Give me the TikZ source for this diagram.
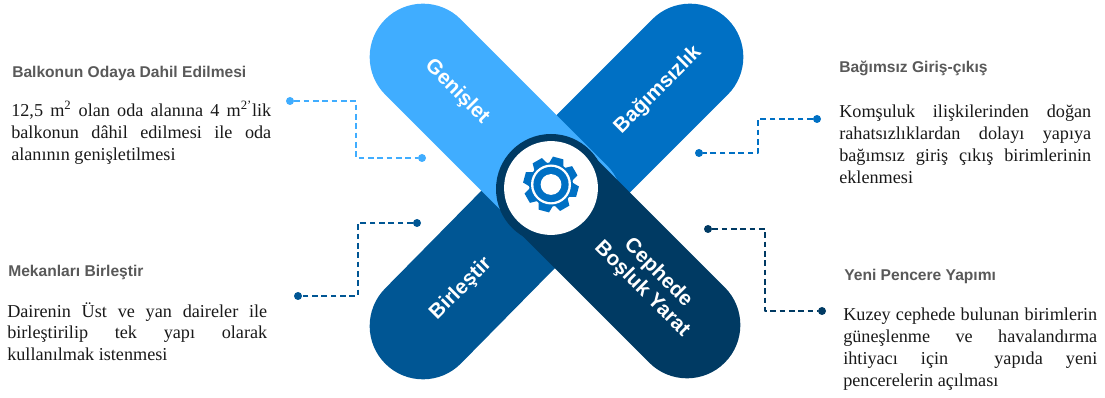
\documentclass[tikz,border=0pt]{standalone}
\usepackage{fontspec}
\setmainfont{Liberation Serif}
\newfontfamily\headfont{Liberation Sans}
\definecolor{lightblue}{HTML}{40ADFF}
\definecolor{midblue}{HTML}{0070C4}
\definecolor{deepblue}{HTML}{005694}
\definecolor{navyblue}{HTML}{003A63}
\definecolor{headgray}{HTML}{595959}
\tikzset{
  pill/.style={line width=80pt,line cap=round},
  pilltext/.style={text=white,font=\headfont\bfseries\fontsize{15.5}{17}\selectfont,align=center,inner sep=0pt},
  headtext/.style={anchor=west,inner sep=0pt,text=headgray,font=\headfont\bfseries\fontsize{11.7}{13}\selectfont},
  bodytext/.style={anchor=north west,inner sep=0pt,align=justify,text=black!90,font=\fontsize{13.65}{16.3}\selectfont},
  linkdot/.style={circle,fill,inner sep=0pt,minimum size=6pt},
  linkline/.style={line width=1.1pt,dash pattern=on 4.2pt off 2.8pt,line cap=butt}
}
\begin{document}
\begin{tikzpicture}[line join=round,x=0.75pt,y=-0.75pt]
      \useasboundingbox (0,0) rectangle (1105,398);
      % the cross
      \draw[pill,color=midblue] (690,57) -- (556,191);
      \draw[pill,color=deepblue] (423,326) -- (556,191);
      \draw[pill,color=lightblue] (423,57) -- (569,203);
      \draw[pill,color=navyblue] (551,189) -- (687,325);
      \fill[color=navyblue] (551,189) circle (41.25pt);
      \fill[color=white] (551,188) circle (35.2pt);
      % gear
      \fill[color=midblue] (551,184.5) circle (16.5pt);
      \foreach \a in {30,75,...,345}
        \fill[color=midblue,shift={(551,184.5)},rotate=\a]
          (15pt,-5.6pt) -- (20.6pt,-4pt) -- (20.6pt,4pt) -- (15pt,5.6pt) -- cycle;
      \fill[color=white] (551,184.5) circle (15pt);
      \fill[color=midblue] (551,184.5) circle (13.2pt);
      \fill[color=white] (551,184.5) circle (7.8pt);
      % labels on the cross
      \node[pilltext,rotate=-45] (genislet) at (457,92) {Genişlet};
      \node[pilltext,rotate=45] (bagimsiz) at (658,90) {Bağımsızlık};
      \node[pilltext,rotate=45] (birlestir) at (461,289) {Birleştir};
      \node[pilltext,rotate=-45] (cephede) at (650,281) {Cephede\\Boşluk Yarat};
      % left top
      \node[headtext] (balkonhead) at (12,73) {Balkonun Odaya Dahil Edilmesi};
      \node[bodytext,text width=195pt] (balkonbody) at (11,101) {12,5 m\textsuperscript{2} olan oda alanına 4 m\textsuperscript{2’}lik\linebreak balkonun dâhil edilmesi ile oda\linebreak alanının genişletilmesi};
      \node[linkdot,color=lightblue] (a1) at (290,101) {};
      \node[linkdot,color=lightblue] (a2) at (422,158) {};
      \coordinate (a3) at (356,101);
      \coordinate (a4) at (356,158);
      \draw[linkline,color=lightblue] (a1) -- (a3) -- (a4) -- (a2);
      % left bottom
      \node[headtext] (mekanhead) at (8,272) {Mekanları Birleştir};
      \node[bodytext,text width=195pt] (mekanbody) at (7,302) {Dairenin Üst ve yan daireler ile\linebreak birleştirilip tek yapı olarak\linebreak kullanılmak istenmesi};
      \node[linkdot,color=deepblue] (b1) at (417,223) {};
      \node[linkdot,color=deepblue] (b2) at (298,296) {};
      \coordinate (b3) at (358,223);
      \coordinate (b4) at (358,296);
      \draw[linkline,color=deepblue] (b1) -- (b3) -- (b4) -- (b2);
      % right top
      \node[headtext] (girishead) at (839,68.5) {Bağımsız Giriş-çıkış};
      \node[bodytext,text width=189pt] (girisbody) at (839,105) {Komşuluk ilişkilerinden doğan\linebreak rahatsızlıklardan dolayı yapıya\linebreak bağımsız giriş çıkış birimlerinin\linebreak eklenmesi};
      \node[linkdot,color=midblue] (c1) at (817,119) {};
      \node[linkdot,color=midblue] (c2) at (699,153) {};
      \coordinate (c3) at (758,119);
      \coordinate (c4) at (758,153);
      \draw[linkline,color=midblue] (c1) -- (c3) -- (c4) -- (c2);
      % right bottom
      \node[headtext] (pencerehead) at (844,276) {Yeni Pencere Yapımı};
      \node[bodytext,text width=190.5pt] (pencerebody) at (843,308) {Kuzey cephede bulunan birimlerin\linebreak güneşlenme ve havalandırma\linebreak ihtiyacı için~~yapıda yeni\linebreak pencerelerin açılması};
      \node[linkdot,color=navyblue] (d1) at (708,229) {};
      \node[linkdot,color=navyblue] (d2) at (822,311) {};
      \coordinate (d3) at (765,229);
      \coordinate (d4) at (765,311);
      \draw[linkline,color=navyblue] (d1) -- (d3) -- (d4) -- (d2);
    \end{tikzpicture}
\end{document}
